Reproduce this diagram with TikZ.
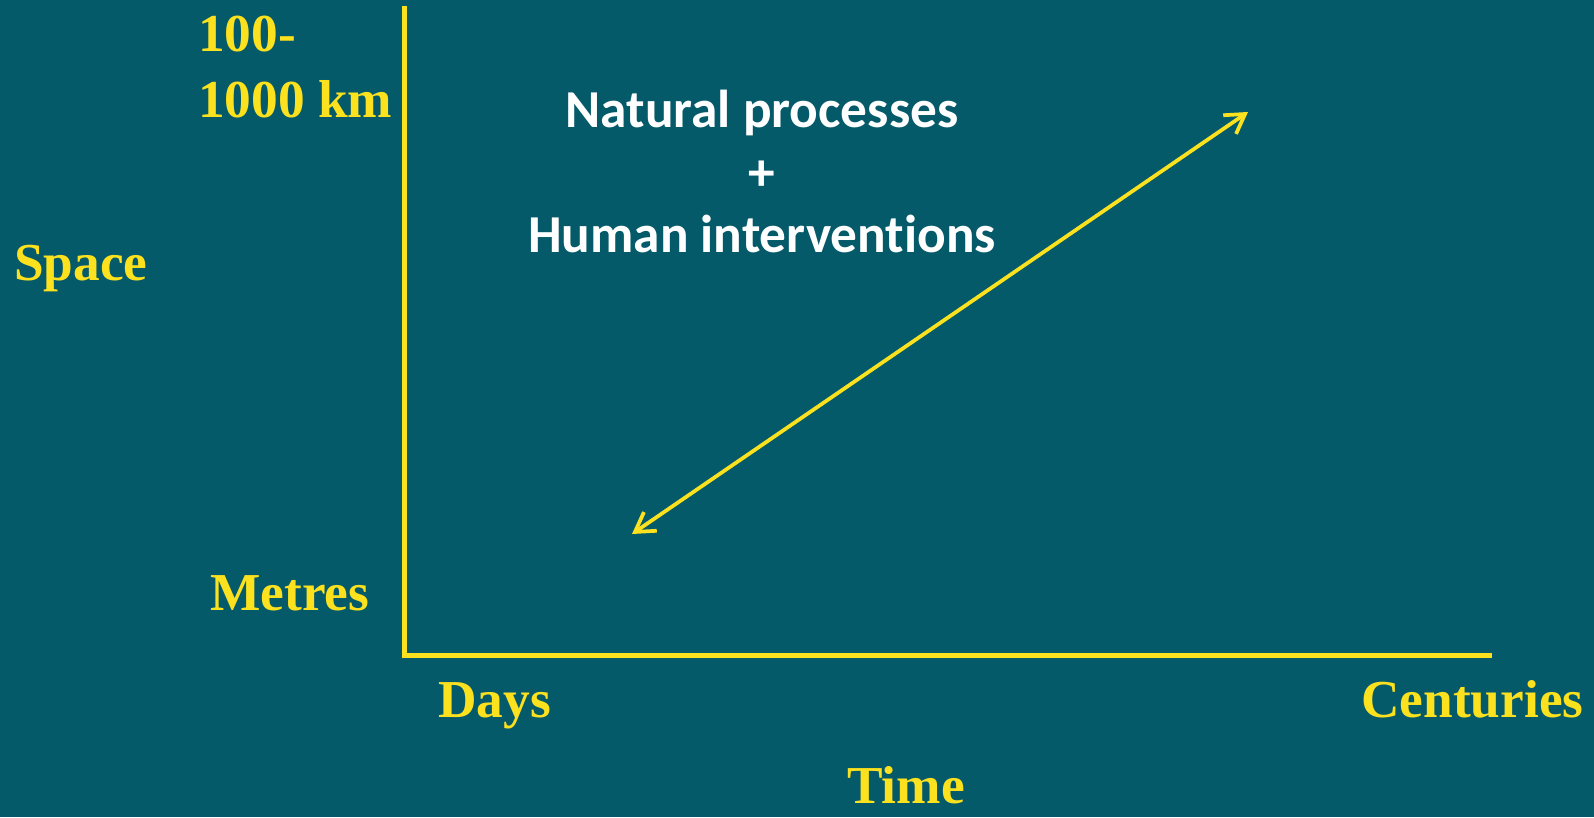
\documentclass[tikz,border=0pt]{standalone}
\usepackage{fontspec}
\setmainfont{Liberation Serif}
\newfontfamily\calib[Ligatures={NoCommon}]{Carlito}
\usetikzlibrary{arrows.meta}
\definecolor{bg}{HTML}{055A6A}
\definecolor{yel}{HTML}{FCE11E}
\tikzset{
  ylab/.style={text=yel,font=\fontsize{40}{48}\selectfont\bfseries,inner sep=0pt,anchor=base west},
  wlab/.style={text=white,font=\calib\fontsize{40}{48}\selectfont\bfseries,inner sep=0pt,anchor=base},
  axis/.style={draw=yel,line width=3.75pt},
  dbl/.style={draw=yel,line width=2.8pt,line cap=round,{Straight Barb[length=14pt,width=17pt,line width=2.8pt]}-{Straight Barb[length=14pt,width=17pt,line width=2.8pt]}}
}
\begin{document}
\begin{tikzpicture}[x=0.75pt,y=-0.75pt]
\fill[bg] (0,0) rectangle (1594,817);
\useasboundingbox (0,0) rectangle (1594,817);
\coordinate (ytop) at (404,6);
\coordinate (orig) at (404,655);
\coordinate (xend) at (1492,655);
\draw[axis] (ytop) -- (orig) -- (xend);
\node[ylab] (l100) at (198,51) {100-};
\node[ylab] (l1000) at (198,117) {1000 km};
\node[ylab] (space) at (14,280) {Space};
\node[ylab] (metres) at (210,610) {Metres};
\node[ylab] (days) at (438,717) {Days};
\node[ylab] (cent) at (1361,717) {Centuries};
\node[ylab] (time) at (847,803) {Time};
\node[wlab] (nat) at (762,127) {Natural processes};
\node[wlab] (plus) at (762,190) {+};
\node[wlab] (hum) at (762,252) {Human interventions};
\coordinate (a1) at (632,534);
\coordinate (a2) at (1248,112);
\draw[dbl] (a1) -- (a2);
\end{tikzpicture}
\end{document}
